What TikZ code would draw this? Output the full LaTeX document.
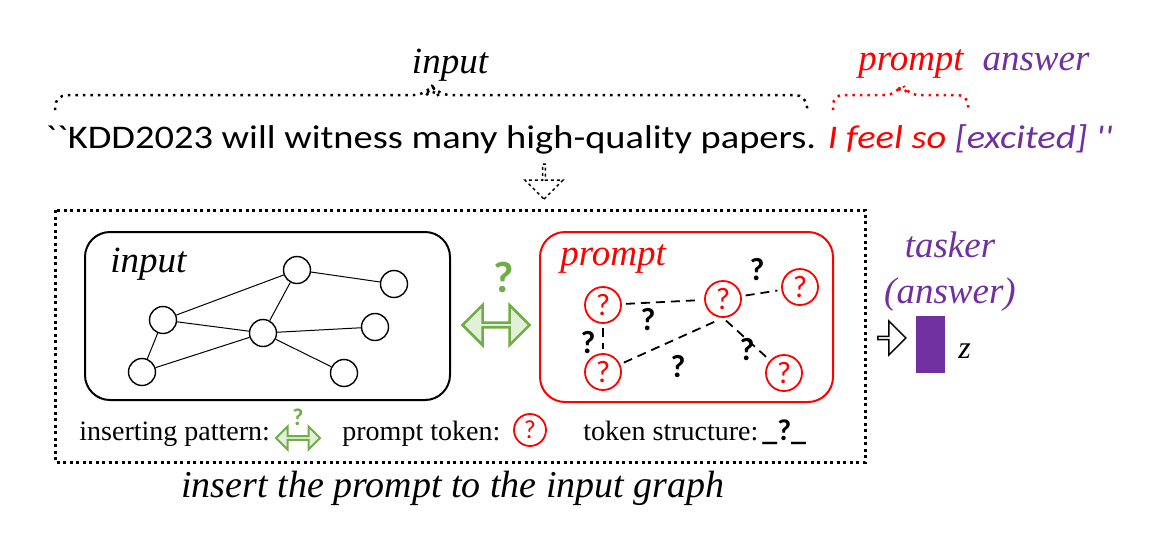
\documentclass[tikz,border=0pt]{standalone}
\usepackage{fontspec}
\usepackage{graphicx}
\setmainfont{Liberation Serif}[ItalicFont={Liberation Serif Italic},BoldFont={Liberation Serif Bold}]
\newfontfamily\calibrifont{Carlito}
\usetikzlibrary{shapes.arrows}
\definecolor{kddred}{HTML}{FF0000}
\definecolor{kddpurple}{HTML}{7030A0}
\definecolor{kddgreen}{HTML}{70AD47}
\definecolor{kddlight}{HTML}{E2F0D9}
\tikzset{
  gnode/.style={draw,circle,line width=1.4pt,minimum size=27pt,inner sep=0pt},
  ptoken/.style={draw=kddred,circle,line width=1.8pt,minimum size=36pt,inner sep=0pt,
    text=kddred,font=\calibrifont\fontsize{31}{31}\selectfont},
  qmark/.style={font=\calibrifont\bfseries\fontsize{32}{32}\selectfont},
  pedge/.style={dash pattern=on 9pt off 6pt,line width=1.8pt,shorten <=4pt,shorten >=4pt},
  dotbrace/.style={line width=2.5pt,dash pattern=on 2.5pt off 5pt,rounded corners=12pt},
  itext/.style={font=\itshape\fontsize{37}{40}\selectfont,inner sep=0pt},
  legtext/.style={font=\fontsize{28}{30}\selectfont,inner sep=0pt,anchor=base west},
}
\begin{document}
\begin{tikzpicture}[x=1pt,y=-1pt,thick]
\useasboundingbox (0,0) rectangle (1150,550);

% sentence and braces
\node[itext,anchor=base] (lin) at (450,73) {input};
\node[itext,anchor=base,text=kddred] (lprompt) at (911,70) {prompt};
\node[itext,anchor=base,text=kddpurple] (lanswer) at (1036,70) {answer};
\draw[dotbrace] (55,110) -- (55,95) -- (426,95) -- (432,86) -- (438,95) -- (807,95) -- (807,110);
\draw[dotbrace,kddred,rounded corners=10pt] (833,110) -- (833,95) -- (896,95) -- (902,83) -- (908,95) -- (968,95) -- (968,110);
\node[inner sep=0pt,anchor=base west,font=\calibrifont\fontsize{33}{36}\selectfont] (sent) at (45,148)
  {\scalebox{1.165}[1]{\symbol{96}\symbol{96}KDD2023 will witness many high-quality papers. \textcolor{kddred}{\itshape I feel so} \textcolor{kddpurple}{\itshape [excited] \symbol{39}\symbol{39}}}};
\node[single arrow,draw,dashed,line width=1.5pt,shape border rotate=270,minimum height=35pt,
  minimum width=38pt,single arrow head extend=10pt,inner sep=0pt] (down) at (544,181) {};

% outer dotted frame
\draw[line width=3pt,dash pattern=on 3pt off 3.5pt] (55,210) rectangle (865,462);

% input graph
\node[draw,rounded corners=25pt,line width=2pt,minimum width=365pt,minimum height=168pt] (inbox) at (267.5,316) {};
\node[itext,anchor=base west] (inlabel) at (110,272) {input};
\node[gnode] (a) at (297,270) {};
\node[gnode] (b) at (394,284) {};
\node[gnode] (c) at (163,320) {};
\node[gnode] (d) at (263,333) {};
\node[gnode] (e) at (375,327) {};
\node[gnode] (f) at (142,372) {};
\node[gnode] (g) at (344,373) {};
\foreach \u/\v in {a/b,a/c,a/d,c/d,c/f,f/d,d/e,d/g}
  \draw[line width=1pt] (\u) -- (\v);

% inserting pattern
\node[qmark,text=kddgreen,font=\calibrifont\bfseries\fontsize{44}{44}\selectfont] (gq) at (504,277) {?};
\node[double arrow,draw=kddgreen,fill=kddlight,line width=2.5pt,minimum height=67pt,
  minimum width=40pt,double arrow head extend=9pt,inner sep=0pt] (ins) at (496,325) {};

% prompt graph
\node[draw=kddred,rounded corners=25pt,line width=2pt,minimum width=293pt,minimum height=170pt] (pbox) at (686.5,317) {};
\node[itext,anchor=base west,text=kddred] (plabel) at (560,265) {prompt};
\node[ptoken] (p1) at (603,305) {?};
\node[ptoken] (p2) at (723,299) {?};
\node[ptoken] (p3) at (800,287) {?};
\node[ptoken] (p4) at (603,372) {?};
\node[ptoken] (p5) at (784,373) {?};
\draw[pedge] (p1) -- (p2);
\draw[pedge] (p2) -- (p3);
\draw[pedge] (p1) -- (p4);
\draw[pedge] (p4) -- (p2.south);
\draw[pedge] (p2.south) -- (p5);
\node[qmark] (q1) at (757,270) {?};
\node[qmark] (q2) at (648,320) {?};
\node[qmark] (q3) at (588,343) {?};
\node[qmark] (q4) at (678,367) {?};
\node[qmark] (q5) at (747,350) {?};

% tasker
\node[itext,anchor=base,text=kddpurple] (task) at (950,257) {tasker};
\node[itext,anchor=base,text=kddpurple] (taskans) at (950,303) {(answer)};
\node[single arrow,draw,fill=white,line width=1.5pt,minimum height=28pt,minimum width=34pt,
  single arrow head extend=7pt,inner sep=0pt] (tarrow) at (891,338) {};
\node[fill=kddpurple,minimum width=29pt,minimum height=57pt,inner sep=0pt] (zbar) at (930.5,344.5) {};
\node[inner sep=0pt,anchor=base west,font=\itshape\fontsize{32}{32}\selectfont] (zlab) at (958,358) {z};

% legend
\node[legtext] (leg1) at (79,440) {inserting pattern:};
\node[double arrow,draw=kddgreen,fill=kddlight,line width=2pt,minimum height=44pt,
  minimum width=23pt,double arrow head extend=5pt,inner sep=0pt] (legins) at (298,438) {};
\node[text=kddgreen,font=\calibrifont\bfseries\fontsize{24}{24}\selectfont,inner sep=0pt] (legq) at (298,417) {?};
\node[legtext] (leg2) at (342,440) {prompt token:};
\node[ptoken,minimum size=32pt,font=\calibrifont\fontsize{26}{26}\selectfont] (legtok) at (530,430) {?};
\node[legtext] (leg3) at (583,440) {token structure:};
\node[inner sep=0pt,anchor=base west,font=\calibrifont\bfseries\fontsize{30}{30}\selectfont] (legstr) at (762,440) {\_?\_};

\node[itext,anchor=base,font=\itshape\fontsize{38}{40}\selectfont] (caption) at (453,497) {insert the prompt to the input graph};
\end{tikzpicture}
\end{document}
